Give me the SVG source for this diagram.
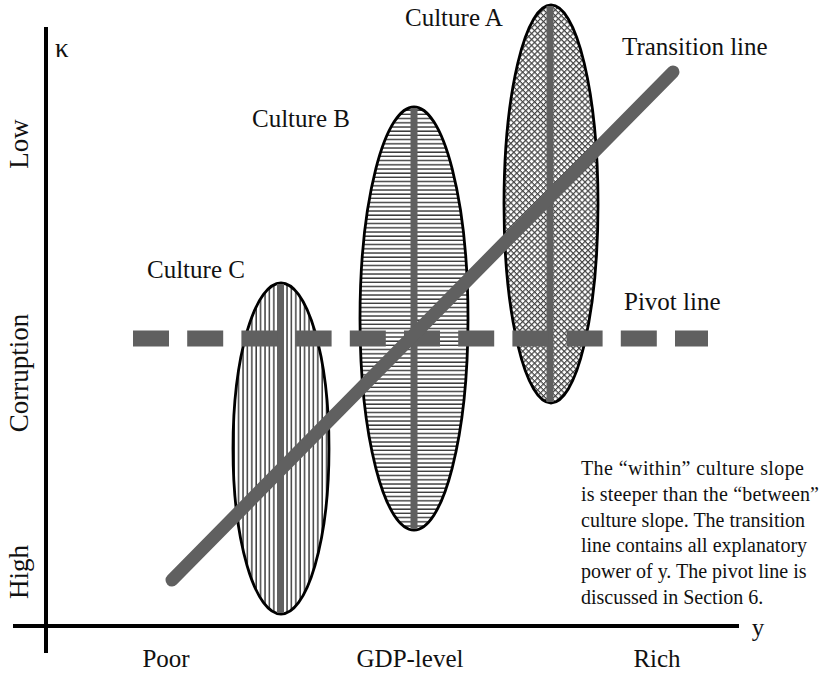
<svg xmlns="http://www.w3.org/2000/svg" width="824" height="673" viewBox="0 0 824 673">
<style>
  .t { font-family: "Liberation Serif", "Times New Roman", serif; fill: #111; }
  .lbl { font-size: 25px; }
  .ax { font-size: 27px; }
  .para { font-size: 20px; }
  .axis { stroke: #000; stroke-width: 4; fill: none; }
  .outline { stroke: #000; stroke-width: 2.8; }
  .core { stroke: #606060; stroke-width: 7; }
  .thick { stroke: #606060; fill: none; }
</style>
<defs>
  <pattern id="vhatch" width="4.4" height="10" patternUnits="userSpaceOnUse">
    <rect width="4.4" height="10" fill="#fff"/>
    <line x1="1" y1="0" x2="1" y2="10" stroke="#222" stroke-width="1.3"/>
  </pattern>
  <pattern id="hhatch" width="10" height="4.2" patternUnits="userSpaceOnUse">
    <rect width="10" height="4.2" fill="#fff"/>
    <line x1="0" y1="1" x2="10" y2="1" stroke="#333" stroke-width="1.4"/>
  </pattern>
  <pattern id="xhatch" width="4.2" height="4.2" patternUnits="userSpaceOnUse" patternTransform="rotate(45)">
    <rect width="4.2" height="4.2" fill="#fff"/>
    <line x1="0" y1="0.6" x2="4.2" y2="0.6" stroke="#444" stroke-width="1.2"/>
    <line x1="0.6" y1="0" x2="0.6" y2="4.2" stroke="#444" stroke-width="1.2"/>
  </pattern>
</defs>
<rect width="824" height="673" fill="#fff"/>

<g id="axes">
  <line class="axis" x1="46" y1="27" x2="46" y2="653"/>
  <line class="axis" x1="13" y1="626" x2="739" y2="626"/>
  <text class="t" x="55" y="57" font-size="27">κ</text>
  <text class="t lbl" x="758" y="636" text-anchor="middle">y</text>
  <text class="t lbl" x="166" y="667" text-anchor="middle">Poor</text>
  <text class="t lbl" x="410" y="667" text-anchor="middle" font-size="26">GDP-level</text>
  <text class="t lbl" x="657" y="667" text-anchor="middle">Rich</text>
  <text class="t ax" text-anchor="middle" transform="translate(28 144) rotate(-90)">Low</text>
  <text class="t ax" text-anchor="middle" transform="translate(28 373) rotate(-90)">Corruption</text>
  <text class="t ax" text-anchor="middle" transform="translate(28 572) rotate(-90)">High</text>
</g>

<g id="culture-c">
  <ellipse cx="281" cy="448.5" rx="48" ry="165.5" fill="url(#vhatch)" class="outline"/>
  <line class="core" x1="280.5" y1="284" x2="280.5" y2="613"/>
  <text class="t lbl" x="147" y="278">Culture C</text>
</g>

<g id="culture-b">
  <ellipse cx="414" cy="318.5" rx="54" ry="211.5" fill="url(#hhatch)" class="outline"/>
  <line class="core" x1="414" y1="108" x2="414" y2="529"/>
  <text class="t lbl" x="252" y="127">Culture B</text>
</g>

<g id="culture-a">
  <ellipse cx="551" cy="204" rx="47" ry="199" fill="url(#xhatch)" class="outline"/>
  <line class="core" x1="550" y1="6" x2="550" y2="402"/>
  <text class="t lbl" x="405" y="26">Culture A</text>
</g>

<g id="connectors">
  <line id="pivot-line" class="thick" x1="133" y1="338.5" x2="708" y2="338.5" stroke-width="16" stroke-dasharray="36 18.2"/>
  <line id="transition-line" class="thick" x1="172" y1="580" x2="673" y2="72" stroke-width="13" stroke-linecap="round"/>
</g>

<g id="line-labels">
  <text class="t lbl" x="622" y="55">Transition line</text>
  <text class="t lbl" x="624" y="310">Pivot line</text>
</g>

<g id="note">
  <text class="t para" x="581" y="475" textLength="223" lengthAdjust="spacing">The “within” culture slope</text>
  <text class="t para" x="581" y="501" textLength="238" lengthAdjust="spacing">is steeper than the “between”</text>
  <text class="t para" x="581" y="527">culture slope. The transition</text>
  <text class="t para" x="581" y="552">line contains all explanatory</text>
  <text class="t para" x="581" y="578">power of y. The pivot line is</text>
  <text class="t para" x="581" y="604">discussed in Section 6.</text>
</g>
</svg>
